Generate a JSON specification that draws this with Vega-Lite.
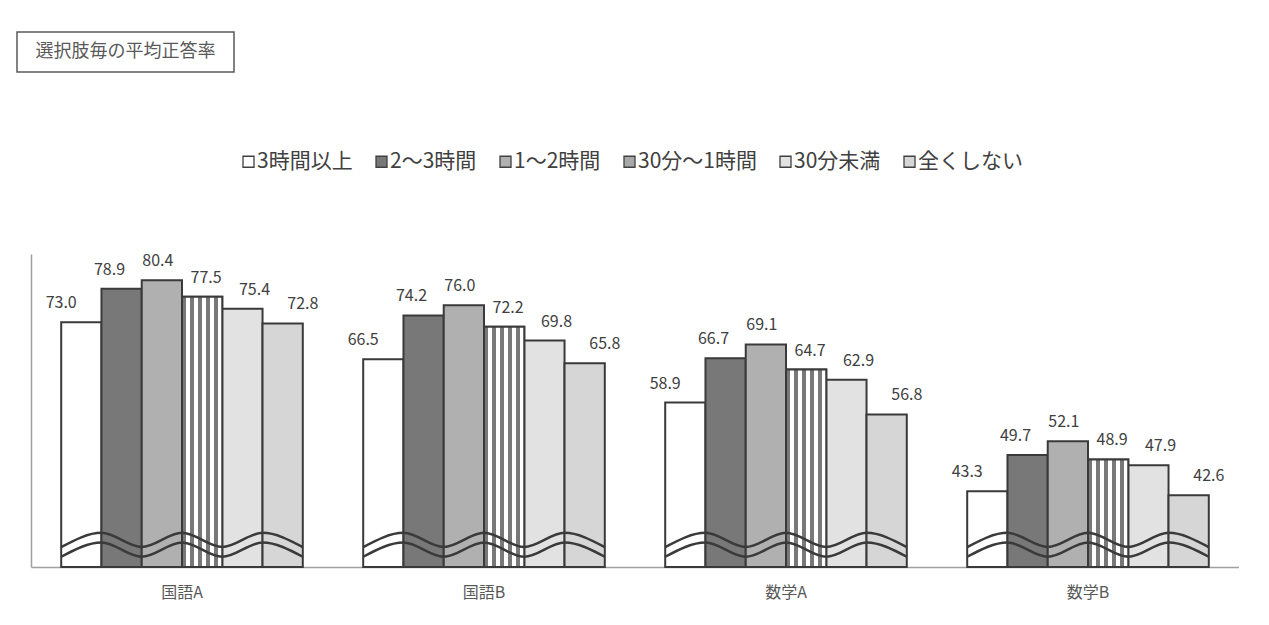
{
  "$schema": "https://vega.github.io/schema/vega-lite/v6.json",
  "padding": {"left": 16, "top": 31, "right": 0, "bottom": 0},
  "background": "white",
  "spacing": 180,
  "columns": 1,
  "align": "none",
  "config": {
    "font": "Noto Sans CJK JP",
    "view": {"stroke": null}
  },
  "datasets": {
    "bars": [
      {"subject": "国語A", "series": "3時間以上", "value": 73.0},
      {"subject": "国語A", "series": "2～3時間", "value": 78.9},
      {"subject": "国語A", "series": "1～2時間", "value": 80.4},
      {"subject": "国語A", "series": "30分～1時間", "value": 77.5},
      {"subject": "国語A", "series": "30分未満", "value": 75.4},
      {"subject": "国語A", "series": "全くしない", "value": 72.8},
      {"subject": "国語B", "series": "3時間以上", "value": 66.5},
      {"subject": "国語B", "series": "2～3時間", "value": 74.2},
      {"subject": "国語B", "series": "1～2時間", "value": 76.0},
      {"subject": "国語B", "series": "30分～1時間", "value": 72.2},
      {"subject": "国語B", "series": "30分未満", "value": 69.8},
      {"subject": "国語B", "series": "全くしない", "value": 65.8},
      {"subject": "数学A", "series": "3時間以上", "value": 58.9},
      {"subject": "数学A", "series": "2～3時間", "value": 66.7},
      {"subject": "数学A", "series": "1～2時間", "value": 69.1},
      {"subject": "数学A", "series": "30分～1時間", "value": 64.7},
      {"subject": "数学A", "series": "30分未満", "value": 62.9},
      {"subject": "数学A", "series": "全くしない", "value": 56.8},
      {"subject": "数学B", "series": "3時間以上", "value": 43.3},
      {"subject": "数学B", "series": "2～3時間", "value": 49.7},
      {"subject": "数学B", "series": "1～2時間", "value": 52.1},
      {"subject": "数学B", "series": "30分～1時間", "value": 48.9},
      {"subject": "数学B", "series": "30分未満", "value": 47.9},
      {"subject": "数学B", "series": "全くしない", "value": 42.6}
    ],
    "wave": [
      {"subject": "国語A", "line": "upper", "k": "p0", "v": 33.5},
      {"subject": "国語A", "line": "upper", "k": "p1", "v": 36.0},
      {"subject": "国語A", "line": "upper", "k": "p2", "v": 33.5},
      {"subject": "国語A", "line": "upper", "k": "p3", "v": 36.0},
      {"subject": "国語A", "line": "upper", "k": "p4", "v": 33.5},
      {"subject": "国語A", "line": "upper", "k": "p5", "v": 36.0},
      {"subject": "国語A", "line": "upper", "k": "p6", "v": 33.5},
      {"subject": "国語A", "line": "lower", "k": "p0", "v": 31.8},
      {"subject": "国語A", "line": "lower", "k": "p1", "v": 34.3},
      {"subject": "国語A", "line": "lower", "k": "p2", "v": 31.8},
      {"subject": "国語A", "line": "lower", "k": "p3", "v": 34.3},
      {"subject": "国語A", "line": "lower", "k": "p4", "v": 31.8},
      {"subject": "国語A", "line": "lower", "k": "p5", "v": 34.3},
      {"subject": "国語A", "line": "lower", "k": "p6", "v": 31.8},
      {"subject": "国語B", "line": "upper", "k": "p0", "v": 33.5},
      {"subject": "国語B", "line": "upper", "k": "p1", "v": 36.0},
      {"subject": "国語B", "line": "upper", "k": "p2", "v": 33.5},
      {"subject": "国語B", "line": "upper", "k": "p3", "v": 36.0},
      {"subject": "国語B", "line": "upper", "k": "p4", "v": 33.5},
      {"subject": "国語B", "line": "upper", "k": "p5", "v": 36.0},
      {"subject": "国語B", "line": "upper", "k": "p6", "v": 33.5},
      {"subject": "国語B", "line": "lower", "k": "p0", "v": 31.8},
      {"subject": "国語B", "line": "lower", "k": "p1", "v": 34.3},
      {"subject": "国語B", "line": "lower", "k": "p2", "v": 31.8},
      {"subject": "国語B", "line": "lower", "k": "p3", "v": 34.3},
      {"subject": "国語B", "line": "lower", "k": "p4", "v": 31.8},
      {"subject": "国語B", "line": "lower", "k": "p5", "v": 34.3},
      {"subject": "国語B", "line": "lower", "k": "p6", "v": 31.8},
      {"subject": "数学A", "line": "upper", "k": "p0", "v": 33.5},
      {"subject": "数学A", "line": "upper", "k": "p1", "v": 36.0},
      {"subject": "数学A", "line": "upper", "k": "p2", "v": 33.5},
      {"subject": "数学A", "line": "upper", "k": "p3", "v": 36.0},
      {"subject": "数学A", "line": "upper", "k": "p4", "v": 33.5},
      {"subject": "数学A", "line": "upper", "k": "p5", "v": 36.0},
      {"subject": "数学A", "line": "upper", "k": "p6", "v": 33.5},
      {"subject": "数学A", "line": "lower", "k": "p0", "v": 31.8},
      {"subject": "数学A", "line": "lower", "k": "p1", "v": 34.3},
      {"subject": "数学A", "line": "lower", "k": "p2", "v": 31.8},
      {"subject": "数学A", "line": "lower", "k": "p3", "v": 34.3},
      {"subject": "数学A", "line": "lower", "k": "p4", "v": 31.8},
      {"subject": "数学A", "line": "lower", "k": "p5", "v": 34.3},
      {"subject": "数学A", "line": "lower", "k": "p6", "v": 31.8},
      {"subject": "数学B", "line": "upper", "k": "p0", "v": 33.5},
      {"subject": "数学B", "line": "upper", "k": "p1", "v": 36.0},
      {"subject": "数学B", "line": "upper", "k": "p2", "v": 33.5},
      {"subject": "数学B", "line": "upper", "k": "p3", "v": 36.0},
      {"subject": "数学B", "line": "upper", "k": "p4", "v": 33.5},
      {"subject": "数学B", "line": "upper", "k": "p5", "v": 36.0},
      {"subject": "数学B", "line": "upper", "k": "p6", "v": 33.5},
      {"subject": "数学B", "line": "lower", "k": "p0", "v": 31.8},
      {"subject": "数学B", "line": "lower", "k": "p1", "v": 34.3},
      {"subject": "数学B", "line": "lower", "k": "p2", "v": 31.8},
      {"subject": "数学B", "line": "lower", "k": "p3", "v": 34.3},
      {"subject": "数学B", "line": "lower", "k": "p4", "v": 31.8},
      {"subject": "数学B", "line": "lower", "k": "p5", "v": 34.3},
      {"subject": "数学B", "line": "lower", "k": "p6", "v": 31.8}
    ]
  },
  "concat": [
    {
      "width": 217,
      "height": 40,
      "view": {"stroke": "#595959", "strokeWidth": 1.5},
      "data": {"values": [{"t": "選択肢毎の平均正答率"}]},
      "mark": {"type": "text", "fontSize": 18, "color": "#595959", "align": "center", "baseline": "middle"},
      "encoding": {"text": {"field": "t"}}
    },
    {
      "width": 1222,
      "height": 313,
      "view": {"stroke": null},
      "resolve": {"scale": {"xOffset": "independent"}},
      "encoding": {
        "x": {
          "field": "subject",
          "type": "nominal",
          "sort": ["国語A", "国語B", "数学A", "数学B"],
          "scale": {"paddingInner": 0.2, "paddingOuter": 0.1, "range": [14, 1222]},
          "axis": {
            "title": null,
            "labelAngle": 0,
            "ticks": false,
            "domainColor": "#a0a0a0",
            "domainWidth": 1.5,
            "labelFontSize": 16,
            "labelColor": "#595959",
            "labelPadding": 17,
            "labelLimit": 500,
            "grid": false
          }
        }
      },
      "layer": [
        {
          "data": {"name": "bars"},
          "mark": {"type": "bar", "stroke": "#3a3a3a", "strokeWidth": 2},
          "encoding": {
            "xOffset": {
              "field": "series",
              "type": "nominal",
              "scale": {"domain": ["3時間以上", "2～3時間", "1～2時間", "30分～1時間", "30分未満", "全くしない"], "paddingInner": 0, "paddingOuter": 0}
            },
            "y": {
              "field": "value",
              "type": "quantitative",
              "scale": {"domain": [30, 85], "zero": false, "nice": false, "clamp": true},
              "axis": {
                "title": null,
                "labels": false,
                "ticks": false,
                "grid": false,
                "domainColor": "#a0a0a0",
                "domainWidth": 1.5,
                "offset": -14
              }
            },
            "y2": {"datum": 30},
            "color": {
              "field": "series",
              "type": "nominal",
              "scale": {
                "domain": ["3時間以上", "2～3時間", "1～2時間", "30分～1時間", "30分未満", "全くしない"],
                "range": ["#ffffff", "#787878", "#b0b0b0", "#a8a8a8", "#e2e2e2", "#d6d6d6"]
              },
              "legend": {
                "title": null,
                "orient": "none",
                "direction": "horizontal",
                "legendX": 221,
                "legendY": 119,
                "padding": 0,
                "symbolType": "square",
                "symbolSize": 121,
                "symbolStrokeColor": "#404040",
                "symbolStrokeWidth": 1.3,
                "labelFontSize": 21,
                "labelColor": "#404040",
                "labelOffset": -2,
                "columnPadding": 18,
                "labelLimit": 300
              }
            }
          }
        },
        {
          "data": {"name": "bars"},
          "transform": [{"filter": "datum.series === '30分～1時間'"}],
          "mark": {
            "type": "bar",
            "stroke": "#3a3a3a",
            "strokeWidth": 2,
            "fill": {
              "gradient": "linear",
              "x1": 0, "y1": 0, "x2": 1, "y2": 0,
              "stops": [
                {"offset": 0, "color": "#787878"},
                {"offset": 0.09, "color": "#787878"},
                {"offset": 0.09, "color": "#ffffff"},
                {"offset": 0.2, "color": "#ffffff"},
                {"offset": 0.2, "color": "#787878"},
                {"offset": 0.29, "color": "#787878"},
                {"offset": 0.29, "color": "#ffffff"},
                {"offset": 0.4, "color": "#ffffff"},
                {"offset": 0.4, "color": "#787878"},
                {"offset": 0.49, "color": "#787878"},
                {"offset": 0.49, "color": "#ffffff"},
                {"offset": 0.6, "color": "#ffffff"},
                {"offset": 0.6, "color": "#787878"},
                {"offset": 0.69, "color": "#787878"},
                {"offset": 0.69, "color": "#ffffff"},
                {"offset": 0.8, "color": "#ffffff"},
                {"offset": 0.8, "color": "#787878"},
                {"offset": 0.89, "color": "#787878"},
                {"offset": 0.89, "color": "#ffffff"},
                {"offset": 1, "color": "#ffffff"}
              ]
            }
          },
          "encoding": {
            "xOffset": {
              "field": "series",
              "type": "nominal",
              "scale": {"domain": ["3時間以上", "2～3時間", "1～2時間", "30分～1時間", "30分未満", "全くしない"], "paddingInner": 0, "paddingOuter": 0}
            },
            "y": {"field": "value", "type": "quantitative"},
            "y2": {"datum": 30}
          }
        },
        {
          "data": {"name": "wave"},
          "mark": {"type": "line", "color": "#3a3a3a", "strokeWidth": 2.5, "interpolate": "monotone"},
          "encoding": {
            "xOffset": {
              "field": "k",
              "type": "nominal",
              "scale": {"type": "point", "padding": 0, "domain": ["p0", "p1", "p2", "p3", "p4", "p5", "p6"]}
            },
            "y": {"field": "v", "type": "quantitative"},
            "detail": [{"field": "subject"}, {"field": "line"}],
            "order": {"field": "k"}
          }
        },
        {
          "data": {"name": "bars"},
          "mark": {"type": "text", "fontSize": 16, "color": "#404040", "baseline": "bottom", "dy": -11},
          "encoding": {
            "xOffset": {
              "field": "series",
              "type": "nominal",
              "scale": {"domain": ["3時間以上", "2～3時間", "1～2時間", "30分～1時間", "30分未満", "全くしない"], "paddingInner": 0, "paddingOuter": 0}
            },
            "y": {"field": "value", "type": "quantitative"},
            "text": {"field": "value", "type": "quantitative", "format": ".1f"}
          }
        }
      ]
    }
  ]
}
